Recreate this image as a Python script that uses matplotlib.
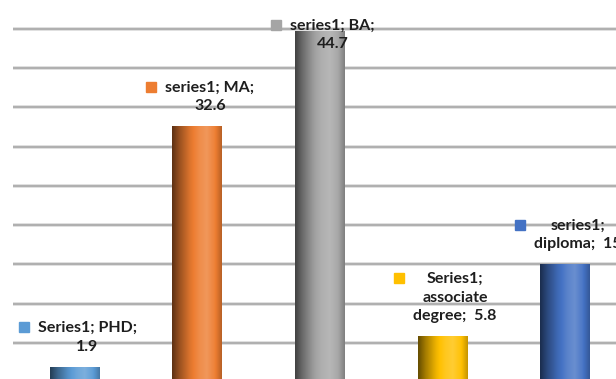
import numpy as np
import matplotlib
matplotlib.use('Agg')
import matplotlib.pyplot as plt
from matplotlib.colors import to_rgb

categories = ['PHD', 'MA', 'BA', 'associate degree', 'diploma']
series_names = ['Series1', 'series1', 'series1', 'Series1', 'series1']
values = [1.9, 32.6, 44.7, 5.8, 15]
colors = ['#5b9bd5', '#ed7d31', '#a5a5a5', '#ffc000', '#4472c4']
label_texts = ['Series1; PHD;\n1.9',
               'series1; MA;\n32.6',
               'series1; BA;\n44.7',
               'Series1;\nassociate\ndegree;  5.8',
               'series1;\ndiploma;  15']
# vertical offset (px) of label bottom from bar top; BA label sits lower
label_dy = [13, 13, -20, 13, 13]

DPI = 100
fig = plt.figure(figsize=(6.16, 3.79), dpi=DPI)
ax = fig.add_axes([0, 0, 1, 1])
ax.axis('off')

# gridlines
for g in range(0, 50, 5):
    ax.hlines(g, -0.5, 5, color='#d9d9d9', lw=2.6, zorder=0)
    ax.hlines(g, -0.5, 5, color='#a8a8a8', lw=1.2, zorder=0.5)

x = np.arange(len(values))
bars = ax.bar(x, values, width=0.4, color='none', zorder=2)

# cylinder shading
prof_x = np.array([0.0, 0.15, 0.35, 0.55, 0.7, 0.85, 1.0])
prof_f = np.array([0.4, 0.65, 0.92, 1.12, 1.2, 1.05, 0.78])
xs = np.linspace(0, 1, 64)
shade = np.interp(xs, prof_x, prof_f)

def shade_color(c, f):
    c = np.array(to_rgb(c))
    if f <= 1:
        return c * f
    return c + (1 - c) * (f - 1)

for b, c in zip(bars, colors):
    row = np.array([shade_color(c, f) for f in shade])
    img = row[np.newaxis, :, :]
    x0, y0 = b.get_x(), b.get_y()
    w, h = b.get_width(), b.get_height()
    im = ax.imshow(img, extent=(x0, x0 + w, y0, y0 + h), aspect='auto',
                   interpolation='bilinear', zorder=2)
    im.set_clip_path(b)
ax.set_xlim(-0.608, 4.42)
ax.set_ylim(0.38, 48.7)

# data labels
texts = []
for xi, v, t, dy in zip(x, values, label_texts, label_dy):
    tx = ax.annotate(t, (xi, v), xytext=(13 * 0.72, dy * 0.72),
                     textcoords='offset points', ha='center', va='bottom',
                     fontsize=11.5, fontweight='bold', family='Lato',
                     color='#1e1e1e', linespacing=1.45, zorder=5)
    texts.append(tx)

fig.canvas.draw()
r = fig.canvas.get_renderer()
for tx, t, c in zip(texts, label_texts, colors):
    bb = tx.get_window_extent(r)
    n = len(t.split('\n'))
    line_h = bb.height / n
    mx = bb.x0 - 14
    my = bb.y1 - line_h / 2 + 2
    fig.patches.append(plt.Rectangle(((mx - 5) / fig.bbox.width, (my - 5) / fig.bbox.height),
                                     10 / fig.bbox.width, 10 / fig.bbox.height,
                                     transform=fig.transFigure, color=c, figure=fig))

fig.savefig('out.png', dpi=DPI)
